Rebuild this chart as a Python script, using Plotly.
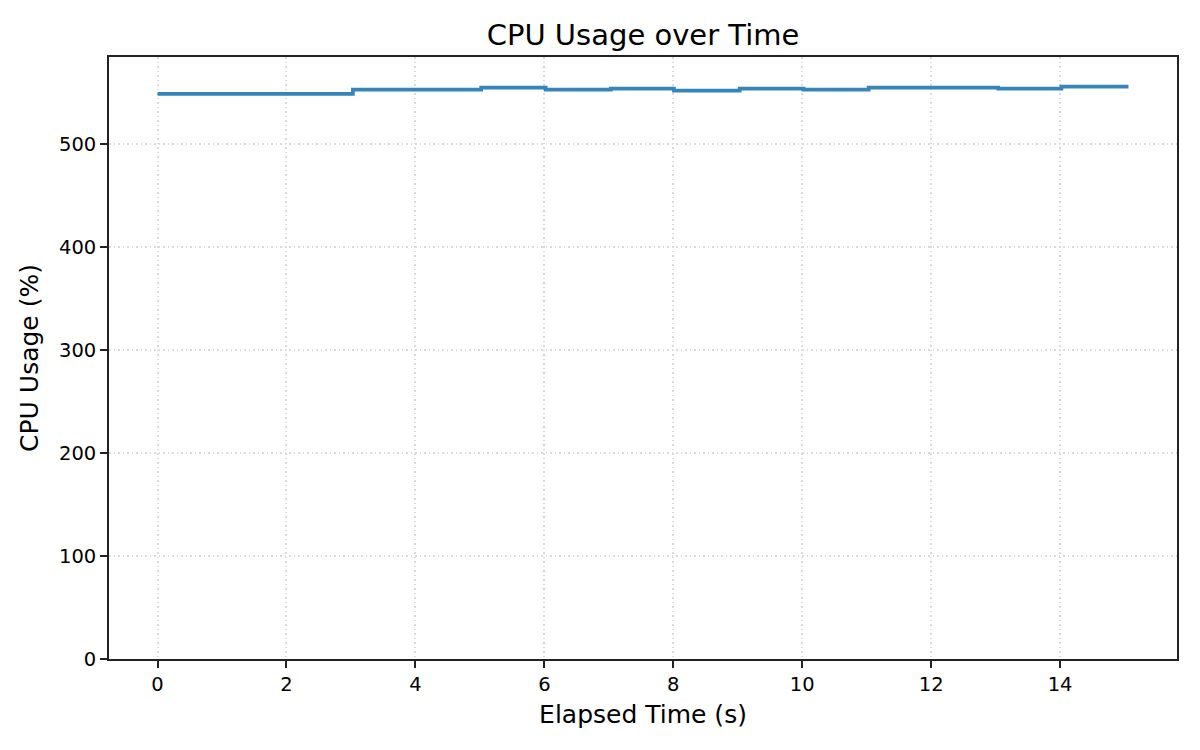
import plotly.graph_objects as go

# sampled CPU readings (steps-post style)
elapsed_s = [0.0, 1.0, 2.01, 3.03, 4.03, 5.02, 6.02, 7.03, 8.01, 9.03,
             10.02, 11.03, 12.03, 13.04, 14.02, 15.06]
cpu_pct = [548.8, 548.8, 548.8, 552.9, 552.9, 554.9, 552.9, 553.9, 551.9, 553.9,
           552.9, 554.9, 554.9, 553.9, 555.8, 555.8]

x_ticks = [0, 2, 4, 6, 8, 10, 12, 14]
y_ticks = [0, 100, 200, 300, 400, 500]

fig = go.Figure()
fig.add_trace(go.Scatter(
    x=elapsed_s, y=cpu_pct, mode='lines', line_shape='hv',
    line=dict(color='rgba(31,119,180,0.9)', width=3.7),
    showlegend=False,
))

axis_common = dict(
    showline=True, linecolor='#222222', linewidth=1.7, mirror=True,
    ticks='outside', ticklen=7, tickwidth=1.7, tickcolor='#222222',
    showgrid=True, gridcolor='#dadada', gridwidth=1.5, griddash='1.7px,2.8px',
    zeroline=False, tickfont=dict(size=19.5, color='#000000'),
)

fig.update_xaxes(
    range=[-0.753, 15.813], tickvals=x_ticks,
    title=dict(text='Elapsed Time (s)', font=dict(size=25, color='#000000'), standoff=10),
    **axis_common,
)
fig.update_yaxes(
    range=[0, 584.6], tickvals=y_ticks,
    title=dict(text='CPU Usage (%)', font=dict(size=25, color='#000000'), standoff=13),
    **axis_common,
)

fig.update_layout(
    width=1200, height=750,
    margin=dict(l=109, r=23, t=57, b=91, autoexpand=False),
    paper_bgcolor='white', plot_bgcolor='white',
    font=dict(family='DejaVu Sans', color='#000000'),
    title=dict(text='CPU Usage over Time', font=dict(size=29, color='#000000'),
               x=0.5, xref='paper', xanchor='center',
               y=1 - 35 / 750, yref='container', yanchor='middle'),
)

fig.write_html("out.html", config={'displayModeBar': False},
               post_script="document.body.style.margin='0';")
